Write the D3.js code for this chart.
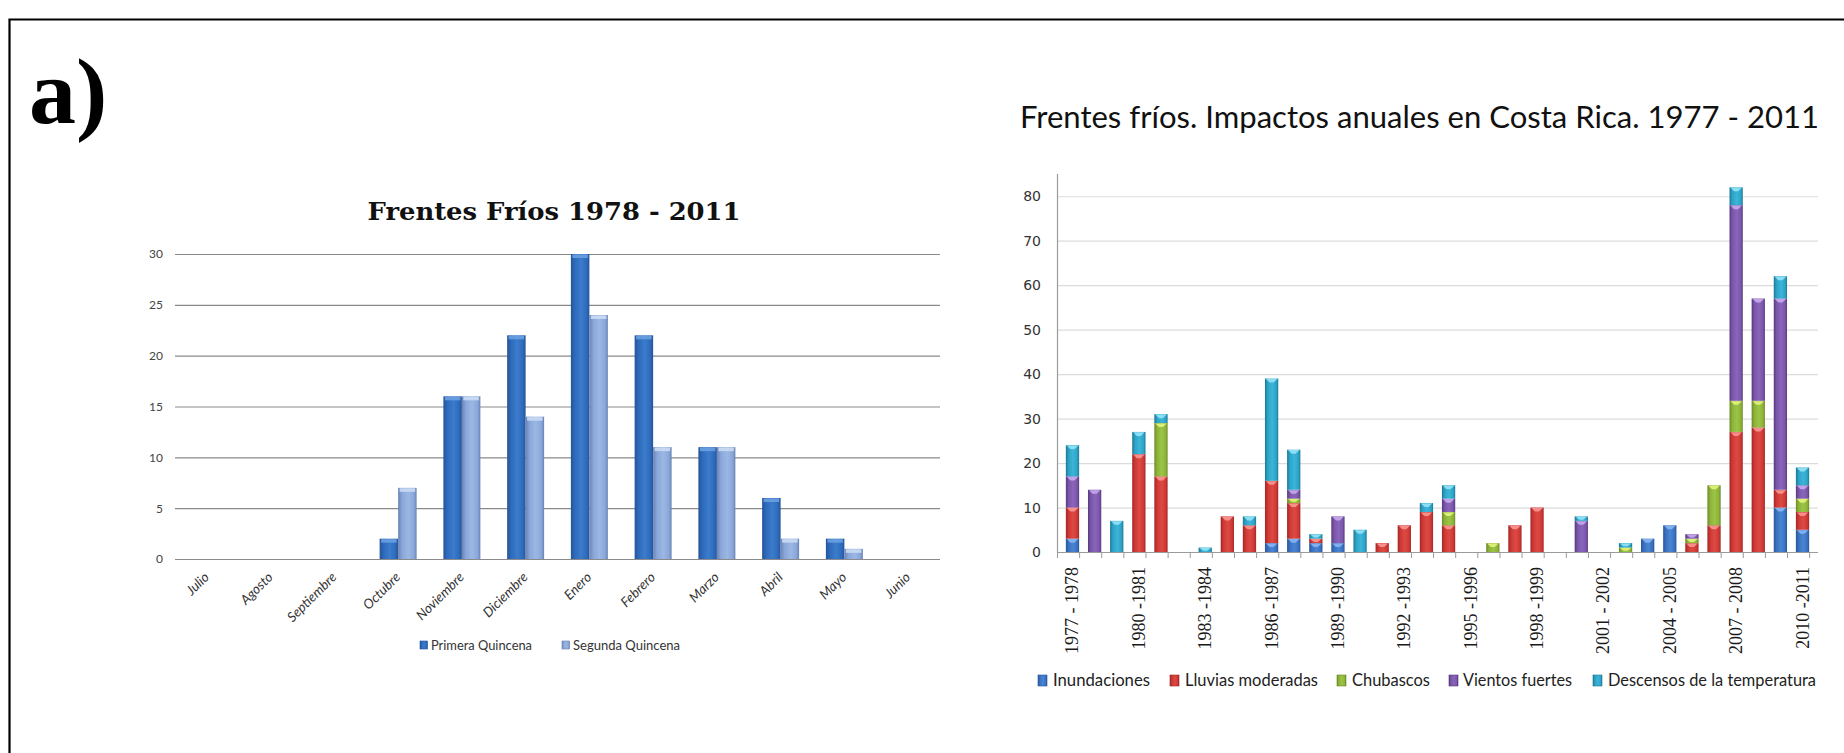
<!DOCTYPE html>
<html>
<head>
<meta charset="utf-8">
<script src="https://cdn.jsdelivr.net/npm/d3@7"></script>
<style>
  html, body { margin: 0; padding: 0; background: #fff; }
  svg { display: block; }
</style>
</head>
<body>
<svg id="fig" width="1844" height="753"></svg>
<script>
// ---- Left panel: cold fronts per fortnight, by month (1978 - 2011)
const months = ["Julio", "Agosto", "Septiembre", "Octubre", "Noviembre", "Diciembre",
                "Enero", "Febrero", "Marzo", "Abril", "Mayo", "Junio"];
const primeraQuincena = [0, 0, 0, 2, 16, 22, 30, 22, 11, 6, 2, 0];
const segundaQuincena = [0, 0, 0, 7, 16, 14, 24, 11, 11, 2, 1, 0];
const monthTicks = [0, 5, 10, 15, 20, 25, 30];
const fortnightNames = ["Primera Quincena", "Segunda Quincena"];

// ---- Right panel: yearly impacts of cold fronts in Costa Rica (1977 - 2011)
const seasons = ["1977 - 1978", "1978 - 1979", "1979 - 1980", "1980 -1981", "1981 - 1982",
                 "1982 - 1983", "1983 -1984", "1984 - 1985", "1985 - 1986", "1986 -1987",
                 "1987 - 1988", "1988 - 1989", "1989 -1990", "1990 - 1991", "1991 - 1992",
                 "1992 -1993", "1993 - 1994", "1994 - 1995", "1995 -1996", "1996 - 1997",
                 "1997 - 1998", "1998 -1999", "1999 - 2000", "2000 - 2001", "2001 - 2002",
                 "2002 - 2003", "2003 - 2004", "2004 - 2005", "2005 - 2006", "2006 - 2007",
                 "2007 - 2008", "2008 - 2009", "2009 - 2010", "2010 -2011"];
const inundaciones      = [3, 0, 0, 0, 0, 0, 0, 0, 0, 2, 3, 2, 2, 0, 0, 0, 0, 0, 0, 0, 0, 0, 0, 0, 0, 0, 3, 6, 0, 0, 0, 0, 10, 5];
const lluviasModeradas  = [7, 0, 0, 22, 17, 0, 0, 8, 6, 14, 8, 1, 0, 0, 2, 6, 9, 6, 0, 0, 6, 10, 0, 0, 0, 0, 0, 0, 2, 6, 27, 28, 4, 4];
const chubascos         = [0, 0, 0, 0, 12, 0, 0, 0, 0, 0, 1, 0, 0, 0, 0, 0, 0, 3, 0, 2, 0, 0, 0, 0, 0, 1, 0, 0, 1, 9, 7, 6, 0, 3];
const vientosFuertes    = [7, 14, 0, 0, 0, 0, 0, 0, 0, 0, 2, 0, 6, 0, 0, 0, 0, 3, 0, 0, 0, 0, 0, 7, 0, 0, 0, 0, 1, 0, 44, 23, 43, 3];
const descensosTemp     = [7, 0, 7, 5, 2, 0, 1, 0, 2, 23, 9, 1, 0, 5, 0, 0, 2, 3, 0, 0, 0, 0, 0, 1, 0, 1, 0, 0, 0, 0, 4, 0, 5, 4];
const impactNames = ["Inundaciones", "Lluvias moderadas", "Chubascos", "Vientos fuertes", "Descensos de la temperatura"];
const impactTicks = [0, 10, 20, 30, 40, 50, 60, 70, 80];

const svg = d3.select("#fig");
const defs = svg.append("defs");

// Horizontal shading gives the bars their rounded, bevelled look
function shade(id, edge, base, light) {
  const g = defs.append("linearGradient").attr("id", id)
    .attr("x1", 0).attr("x2", 1).attr("y1", 0).attr("y2", 0);
  g.append("stop").attr("offset", "0%").attr("stop-color", edge);
  g.append("stop").attr("offset", "22%").attr("stop-color", base);
  g.append("stop").attr("offset", "55%").attr("stop-color", light);
  g.append("stop").attr("offset", "85%").attr("stop-color", base);
  g.append("stop").attr("offset", "100%").attr("stop-color", edge);
}

// ---------- frame and panel tag ----------
svg.append("path").attr("d", "M9.5,753 V19.5 H1844")
  .attr("fill", "none").attr("stroke", "#000").attr("stroke-width", 2.2);
svg.append("text").attr("x", 29).attr("y", 123)
  .attr("font-family", "Liberation Serif, serif").attr("font-weight", "bold")
  .attr("font-size", 94).attr("fill", "#000").text("a)");

// ================= LEFT CHART =================
const L = { left: 175, right: 940, top: 254, bottom: 559 };
const lx = d3.scaleBand().domain(months).range([L.left, L.right]).paddingInner(0.42).paddingOuter(0.21);
const lx2 = d3.scaleBand().domain([0, 1]).range([0, lx.bandwidth()]);
const ly = d3.scaleLinear().domain([0, 30]).range([L.bottom, L.top]);

const leftColors = [
  { edge: "#23549a", base: "#2f6abb", light: "#3b7ccc", cap: "#6aa0e0" },
  { edge: "#6a83b3", base: "#89a7da", light: "#9bb7e4", cap: "#cbdaf3" }
];
leftColors.forEach((c, i) => shade("lq" + i, c.edge, c.base, c.light));

svg.append("text").attr("x", (367 + 741) / 2).attr("y", 220)
  .attr("text-anchor", "middle")
  .attr("font-family", "DejaVu Serif, serif").attr("font-weight", "bold")
  .attr("font-size", 25).attr("textLength", 373).attr("lengthAdjust", "spacingAndGlyphs")
  .attr("fill", "#111").text("Frentes Fríos 1978 - 2011");

const lg = svg.append("g");
lg.append("g").attr("transform", `translate(${L.left},0)`)
  .call(d3.axisLeft(ly).tickValues(monthTicks).tickSize(-(L.right - L.left)).tickPadding(12))
  .call(g => g.select(".domain").remove())
  .call(g => g.selectAll(".tick line").attr("stroke", "#8a8a8a").attr("stroke-width", 1.2))
  .call(g => g.selectAll(".tick text").attr("font-family", "Lato, sans-serif")
    .attr("font-size", 12).attr("fill", "#444"));

const leftSeries = [primeraQuincena, segundaQuincena];
leftSeries.forEach((vals, si) => {
  const c = leftColors[si];
  const grp = lg.append("g");
  const bars = grp.selectAll("g").data(months.map((m, i) => ({ m, v: vals[i] })).filter(d => d.v > 0))
    .join("g");
  bars.append("rect")
    .attr("x", d => lx(d.m) + lx2(si)).attr("width", lx2.bandwidth())
    .attr("y", d => ly(d.v)).attr("height", d => ly(0) - ly(d.v))
    .attr("fill", `url(#lq${si})`);
  bars.append("rect")
    .attr("x", d => lx(d.m) + lx2(si) + 1.5).attr("width", lx2.bandwidth() - 3)
    .attr("y", d => ly(d.v) + 0.5).attr("height", 3.5)
    .attr("fill", c.cap).attr("opacity", 0.9);
});

// month labels, slanted
lg.selectAll("text.month").data(months).join("text").attr("class", "month")
  .attr("transform", d => `translate(${lx(d) + lx.bandwidth() / 2 + 3},578) rotate(-45)`)
  .attr("text-anchor", "end")
  .attr("font-family", "Lato, sans-serif").attr("font-size", 13.5).attr("font-style", "italic")
  .attr("fill", "#333").text(d => d);

// legend
const lLeg = [{ mx: 420, tx: 431, tw: 101 }, { mx: 562, tx: 573, tw: 107 }];
fortnightNames.forEach((n, i) => {
  const c = leftColors[i];
  svg.append("rect").attr("x", lLeg[i].mx).attr("y", 641).attr("width", 7.5).attr("height", 8)
    .attr("fill", `url(#lq${i})`).attr("stroke", c.edge).attr("stroke-width", 0.6);
  svg.append("text").attr("x", lLeg[i].tx).attr("y", 649.5)
    .attr("font-family", "Lato, sans-serif").attr("font-size", 13)
    .attr("textLength", lLeg[i].tw).attr("lengthAdjust", "spacingAndGlyphs")
    .attr("fill", "#333").text(n);
});

// ================= RIGHT CHART =================
const R = { left: 1057, right: 1818, top: 174, bottom: 552 };
const rx = d3.scaleBand().domain(seasons).range([R.left, R.right]).padding(0.4);
const ry = d3.scaleLinear().domain([0, 85]).range([R.bottom, R.top]);

const impactColors = [
  { edge: "#2a5597", base: "#3a72c2", light: "#4a84d2", cap: "#86b2ee" },
  { edge: "#a32624", base: "#cf3935", light: "#dc4a44", cap: "#f59490" },
  { edge: "#6c8b27", base: "#8db43a", light: "#9cc445", cap: "#e0f07a" },
  { edge: "#58397f", base: "#7b56ab", light: "#8966ba", cap: "#c3a6ea" },
  { edge: "#1d7895", base: "#2ea4c7", light: "#3bb5d8", cap: "#8fe0f4" }
];
impactColors.forEach((c, i) => shade("imp" + i, c.edge, c.base, c.light));

svg.append("text").attr("x", 1020).attr("y", 128)
  .attr("font-family", "Lato, sans-serif").attr("font-size", 30)
  .attr("textLength", 799).attr("lengthAdjust", "spacingAndGlyphs")
  .attr("fill", "#111").text("Frentes fríos. Impactos anuales en Costa Rica. 1977 - 2011");

const rg = svg.append("g");
// gridlines
rg.append("g").attr("transform", `translate(${R.left},0)`)
  .call(d3.axisLeft(ry).tickValues(impactTicks).tickSize(-(R.right - R.left)).tickPadding(16))
  .call(g => g.select(".domain").remove())
  .call(g => g.selectAll(".tick line").attr("stroke", "#dcdcdc").attr("stroke-width", 1.2))
  .call(g => g.selectAll(".tick text").attr("font-family", "DejaVu Sans, sans-serif")
    .attr("font-size", 14).attr("fill", "#333"));
// vertical axis line
rg.append("line").attr("x1", R.left + 0.5).attr("x2", R.left + 0.5)
  .attr("y1", R.top).attr("y2", R.bottom).attr("stroke", "#9a9a9a").attr("stroke-width", 1.2);

const table = seasons.map((s, i) => ({
  season: s,
  [impactNames[0]]: inundaciones[i],
  [impactNames[1]]: lluviasModeradas[i],
  [impactNames[2]]: chubascos[i],
  [impactNames[3]]: vientosFuertes[i],
  [impactNames[4]]: descensosTemp[i]
}));
const stacked = d3.stack().keys(impactNames)(table);

stacked.forEach((layer, k) => {
  const c = impactColors[k];
  const segs = rg.append("g").selectAll("g")
    .data(layer.filter(d => d[1] - d[0] > 0)).join("g");
  segs.append("rect")
    .attr("x", d => rx(d.data.season)).attr("width", rx.bandwidth())
    .attr("y", d => ry(d[1])).attr("height", d => ry(d[0]) - ry(d[1]))
    .attr("fill", `url(#imp${k})`);
  segs.append("path")
    .attr("d", d => {
      const x0 = rx(d.data.season), w = rx.bandwidth(), y = ry(d[1]);
      const h = Math.min(3, (ry(d[0]) - ry(d[1])) * 0.5);
      return `M${x0 + 1},${y + 0.4} H${x0 + w - 1} L${x0 + w / 2 + 2},${y + h + 1} H${x0 + w / 2 - 2} Z`;
    })
    .attr("fill", c.cap).attr("opacity", 0.95);
});

// horizontal axis with category ticks
rg.append("line").attr("x1", R.left).attr("x2", R.right)
  .attr("y1", R.bottom + 0.5).attr("y2", R.bottom + 0.5).attr("stroke", "#9a9a9a").attr("stroke-width", 1.2);
rg.selectAll("line.cat").data(d3.range(seasons.length + 1)).join("line").attr("class", "cat")
  .attr("x1", i => R.left + i * rx.step() + 0.5)
  .attr("x2", i => R.left + i * rx.step() + 0.5)
  .attr("y1", R.bottom).attr("y2", R.bottom + 6).attr("stroke", "#9a9a9a").attr("stroke-width", 1);

rg.selectAll("text.season").data(seasons.filter((s, i) => i % 3 === 0)).join("text")
  .attr("class", "season")
  .attr("transform", d => `translate(${rx(d) + rx.bandwidth() / 2 + 6},567) rotate(-90)`)
  .attr("text-anchor", "end")
  .attr("font-family", "Liberation Serif, serif").attr("font-size", 18)
  .attr("fill", "#1a1a1a").text(d => d);

// legend
const rLeg = [
  { mx: 1038, tx: 1053, tw: 97 },
  { mx: 1170, tx: 1185, tw: 133 },
  { mx: 1337, tx: 1352, tw: 78 },
  { mx: 1449, tx: 1463, tw: 109 },
  { mx: 1593, tx: 1608, tw: 208 }
];
impactNames.forEach((n, i) => {
  const c = impactColors[i];
  svg.append("rect").attr("x", rLeg[i].mx).attr("y", 675).attr("width", 9).attr("height", 11)
    .attr("fill", `url(#imp${i})`).attr("stroke", c.edge).attr("stroke-width", 0.6);
  svg.append("text").attr("x", rLeg[i].tx).attr("y", 686)
    .attr("font-family", "Lato, sans-serif").attr("font-size", 17.5)
    .attr("textLength", rLeg[i].tw).attr("lengthAdjust", "spacingAndGlyphs")
    .attr("fill", "#222").text(n);
});
</script>
</body>
</html>
